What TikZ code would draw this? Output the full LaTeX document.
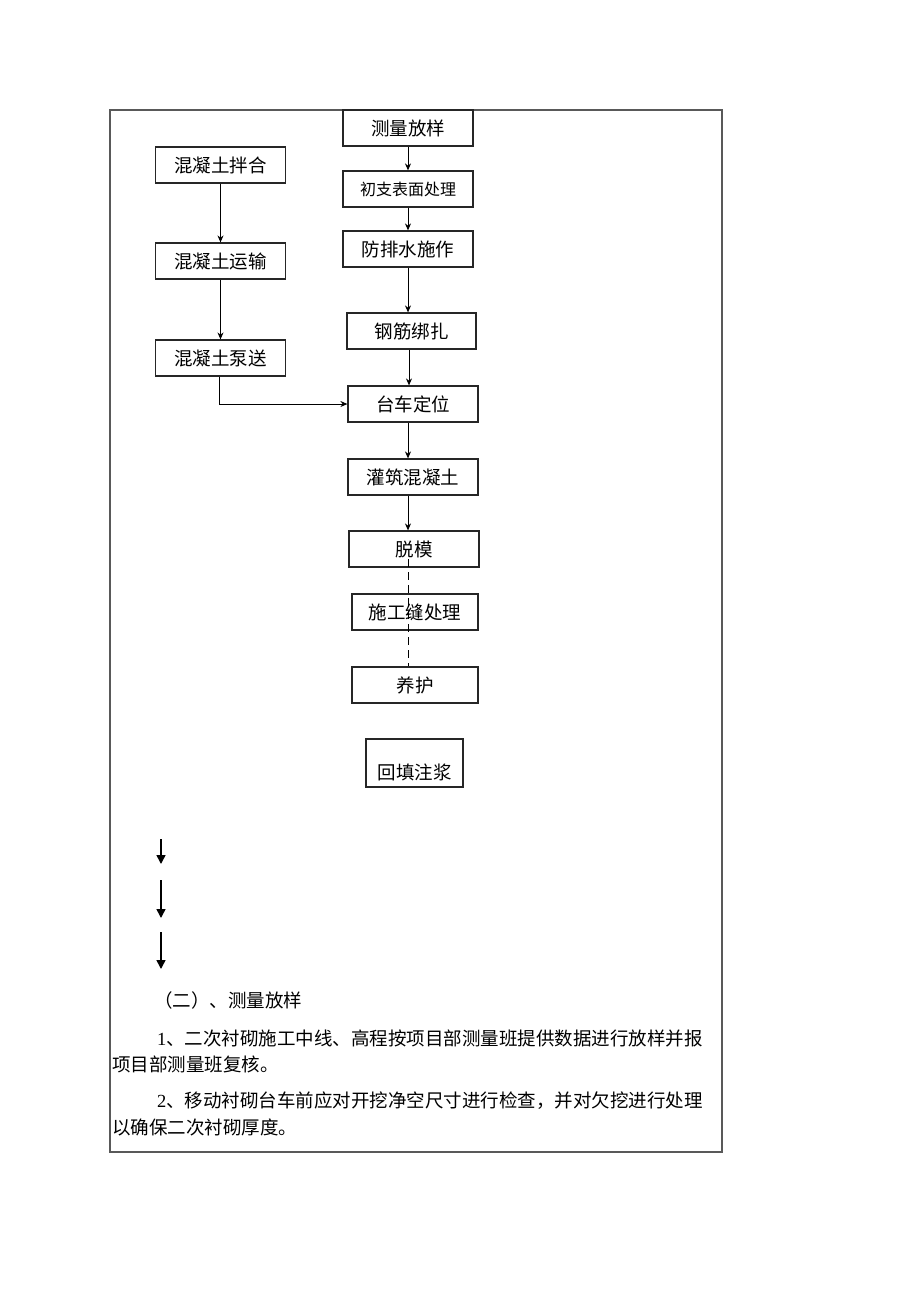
\documentclass[tikz,border=0pt]{standalone}
\usepackage{fontspec}
\newfontfamily\cjk{Noto Sans CJK SC}
\newfontfamily\tnr{Liberation Serif}
\usepackage{tikz}
\usetikzlibrary{calc}
\usetikzlibrary{arrows.meta}

\begin{document}
\begin{tikzpicture}[x=1pt, y=-1pt,
	stepbox/.style={draw=black!85, line width=1.2pt, minimum width=130pt, minimum height=36pt, inner sep=0pt, text height=16pt, text depth=2pt, font=\cjk\fontsize{18.5}{20}\selectfont},
	flow/.style={draw=black, line width=1pt, -{Stealth[length=7pt,width=6pt]}},
	bigflow/.style={draw=black, line width=1.5pt, -{Triangle[length=9pt,width=9pt]}},
	para/.style={anchor=base west, inner sep=0pt, font=\cjk\fontsize{18.5}{21}\selectfont}]
			\useasboundingbox (0,0) rectangle (920,1302);
			\draw[black!65, line width=1.2pt] (110,110) rectangle (722,1152);

			\coordinate (lcol) at (220.5,0);
			\coordinate (rcol) at (408,0);

			% left column
			\node[stepbox] (banhe) at ($(lcol)+(0,165)$) {混凝土拌合};
			\node[stepbox] (yunshu) at ($(lcol)+(0,261)$) {混凝土运输};
			\node[stepbox] (bengsong) at ($(lcol)+(0,358)$) {混凝土泵送};

			% right column
			\node[stepbox] (celiang) at ($(rcol)+(0,128)$) {测量放样};
			\node[stepbox, font=\cjk\fontsize{16}{18}\selectfont, text height=14pt] (chuzhi) at ($(rcol)+(0,189)$) {初支表面处理};
			\node[stepbox] (fangpai) at ($(rcol)+(0,249)$) {防排水施作};
			\node[stepbox, minimum width=129pt] (gangjin) at ($(rcol)+(3.5,331)$) {钢筋绑扎};
			\node[stepbox] (taiche) at ($(rcol)+(5,404)$) {台车定位};
			\node[stepbox] (guanzhu) at ($(rcol)+(5,477)$) {灌筑混凝土};
			\node[stepbox] (tuomo) at ($(rcol)+(6,549)$) {脱模};
			\node[stepbox, minimum width=126pt] (shigong) at ($(rcol)+(7,612)$) {施工缝处理};
			\node[stepbox, minimum width=126pt] (yanghu) at ($(rcol)+(7,685)$) {养护};
			\node[stepbox, minimum width=97pt, minimum height=48pt, text height=34pt] (huitian) at ($(rcol)+(6.5,763)$) {回填注浆};

			\draw[flow] (banhe) -- (yunshu);
			\draw[flow] (yunshu) -- (bengsong);
			\draw[flow] ([xshift=-1.5pt]bengsong.south) |- (taiche.west);

			\draw[flow] (celiang) -- (chuzhi);
			\draw[flow] (chuzhi) -- (fangpai);
			\draw[flow] (fangpai.south) -- (fangpai.south |- gangjin.north);
			\draw[flow] ([xshift=1pt]gangjin.south -| rcol) -- ([xshift=1pt]taiche.north -| rcol);
			\draw[flow] (taiche.south -| rcol) -- (guanzhu.north -| rcol);
			\draw[flow] (guanzhu.south -| rcol) -- (tuomo.north -| rcol);
			\draw[black, line width=1pt, dash pattern=on 8pt off 5pt] ($(tuomo.center -| rcol)+(0,10)$) -- (yanghu.north -| rcol);

			% free arrows
			\coordinate (a1) at (161,839);
			\coordinate (b1) at (161,864);
			\coordinate (a2) at (161,880);
			\coordinate (b2) at (161,918);
			\coordinate (a3) at (161,932);
			\coordinate (b3) at (161,969);
			\draw[bigflow] (a1) -- (b1);
			\draw[bigflow] (a2) -- (b2);
			\draw[bigflow] (a3) -- (b3);

			% text
			\node[para] (title) at (154,1007) {（二）、测量放样};
			\node[para] (p1a) at (157,1045) {{\tnr 1}、二次衬砌施工中线、高程按项目部测量班提供数据进行放样并报};
			\node[para] (p1b) at (112,1071) {项目部测量班复核。};
			\node[para] (p2a) at (157,1107) {{\tnr 2}、移动衬砌台车前应对开挖净空尺寸进行检查，并对欠挖进行处理};
			\node[para] (p2b) at (112,1134) {以确保二次衬砌厚度。};

		\end{tikzpicture}
\end{document}
